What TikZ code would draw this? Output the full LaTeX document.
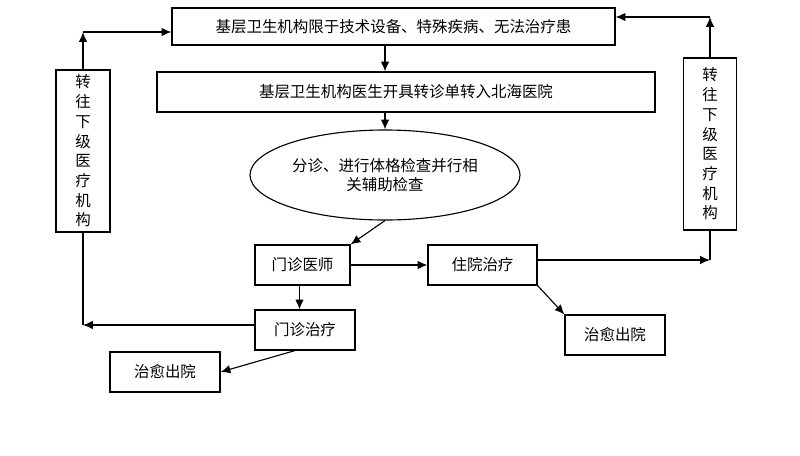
\documentclass[tikz,border=0pt]{standalone}
\usepackage{fontspec}
\setmainfont{Noto Sans CJK SC}
\usetikzlibrary{shapes.geometric,arrows.meta}
\tikzset{
  box/.style={draw, thick, inner sep=0pt, font=\fontsize{11}{14}\selectfont},
  flow/.style={thick, -{Latex[length=7pt,width=6pt]}},
  link/.style={thick}
}
\begin{document}
\begin{tikzpicture}[x=0.025cm, y=-0.025cm]
\useasboundingbox (0,0) rectangle (800,455);
% boxes (pixel coordinates)
\node[box, minimum width=443*0.025cm, minimum height=37*0.025cm, align=left] (top) at (393.5,26.5) {基层卫生机构限于技术设备、特殊疾病、无法治疗患};
\node[box, minimum width=498*0.025cm, minimum height=40*0.025cm] (ref) at (406,92) {基层卫生机构医生开具转诊单转入北海医院};
\node[box, ellipse, minimum width=270*0.025cm, minimum height=90*0.025cm, align=center] (tri) at (385,175) {分诊、进行体格检查并行相\\关辅助检查};
\node[box, minimum width=95*0.025cm, minimum height=40*0.025cm] (doc) at (302.5,265) {门诊医师};
\node[box, minimum width=109*0.025cm, minimum height=40*0.025cm] (inp) at (482.5,265) {住院治疗};
\node[box, minimum width=100*0.025cm, minimum height=40*0.025cm] (out) at (305,330) {门诊治疗};
\node[box, minimum width=110*0.025cm, minimum height=40*0.025cm] (cureL) at (165,372) {治愈出院};
\node[box, minimum width=100*0.025cm, minimum height=40*0.025cm] (cureR) at (615,335) {治愈出院};
\node[box, minimum width=54*0.025cm, minimum height=162*0.025cm, align=center] (down) at (83,151) {转\\往\\下\\级\\医\\疗\\机\\构};
\node[box, minimum width=53*0.025cm, minimum height=172*0.025cm, align=center] (up) at (710,144) {转\\往\\下\\级\\医\\疗\\机\\构};
% corners
\coordinate (c1) at (83,32);
\coordinate (c2) at (83,325);
\coordinate (c3) at (710,17);
\coordinate (c4) at (710,260);
\coordinate (m) at (385,0);
% connectors
\draw[flow] (m |- top.south) -- (m |- ref.north);
\draw[flow] (m |- ref.south) -- (tri.north);
\draw[flow] (tri.south) -- (doc.north east);
\draw[flow] (doc) -- (inp);
\draw[flow] (doc.south) ++(-3,0) coordinate (d1) -- (d1 |- out.north);
\draw[flow] (out.south) ++(-10,0) -- (cureL.east);
\draw[flow] (inp.south east) -- (cureR.north west);
\draw[flow] (out.west |- c2) -- (c2);
\draw[link] (c2) -- (down.south);
\draw[flow] (down.north) -- (c1);
\draw[flow] (c1) -- (top.west |- c1);
\draw[flow] (inp.east |- c4) -- (c4);
\draw[link] (c4) -- (up.south);
\draw[flow] (up.north) -- (c3);
\draw[flow] (c3) -- (top.east |- c3);
\end{tikzpicture}
\end{document}
